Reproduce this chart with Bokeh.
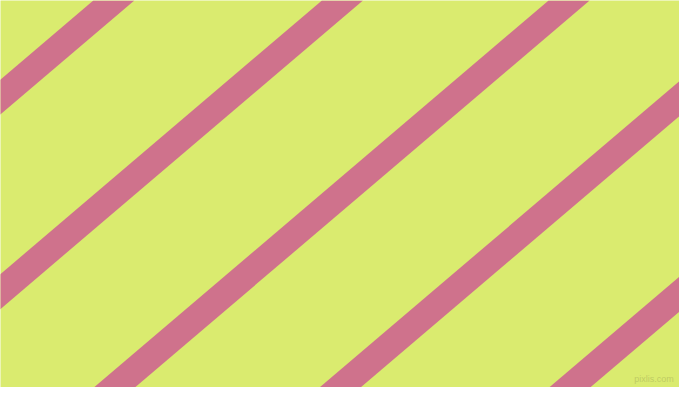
from bokeh.plotting import figure
from bokeh.models import Range1d
from bokeh.embed import file_html
from bokeh.resources import INLINE

# where each stripe's centre line meets the top edge (image px), and its run
stripe_top_x = [116, 350, 582, 813, 1048]
stripe_run = 1.155      # x shift per 1px down
stripe_band = 42        # horizontal thickness of a stripe

background = "#DAEB6F"
stripe_color = "#CF728C"

W, H = 695, 403

p = figure(width=W - 16, height=H - 16,
           x_range=Range1d(0, W), y_range=Range1d(H, 0),
           toolbar_location=None, output_backend="svg", min_border=0,
           background_fill_color=background, border_fill_color=background,
           outline_line_color=None)
p.axis.visible = False
p.grid.visible = False

xs, ys = [], []
for x0 in stripe_top_x:
    left, right = x0 - stripe_band / 2, x0 + stripe_band / 2
    drop = H * stripe_run
    xs.append([left, right, right - drop, left - drop])
    ys.append([0, 0, H, H])

p.patches(xs, ys, fill_color=stripe_color, line_color=None)

p.text(x=[689], y=[394], text=["pixlis.com"], text_align="right",
       text_baseline="middle", text_font_size="9px", text_color="#b8c460",
       text_alpha=0.8)

open("out.html", "w").write(file_html(p, INLINE))
